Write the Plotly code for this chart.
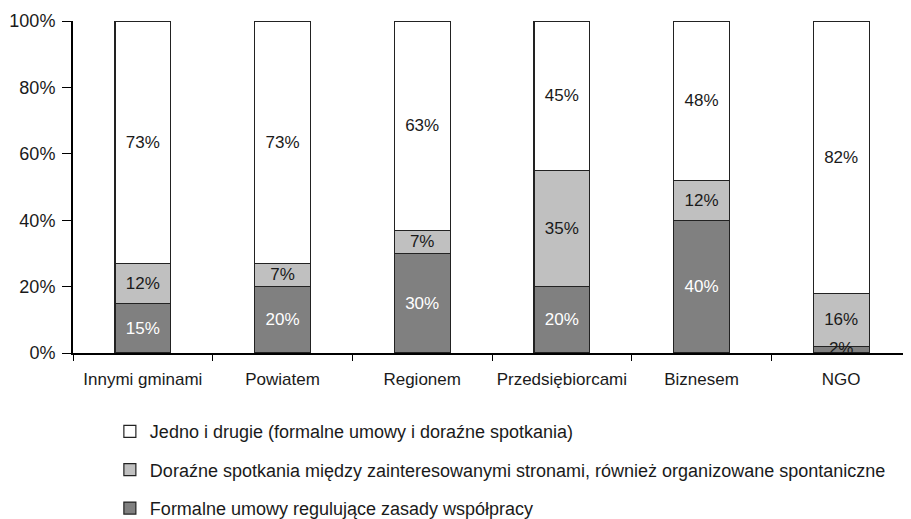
import plotly.graph_objects as go

categories = ["Innymi gminami", "Powiatem", "Regionem", "Przedsiębiorcami", "Biznesem", "NGO"]
formalne = [15, 20, 30, 20, 40, 2]
dorazne = [12, 7, 7, 35, 12, 16]
jedno = [73, 73, 63, 45, 48, 82]
y_ticks = [0, 20, 40, 60, 80, 100]

series = [
    ("Formalne umowy regulujące zasady współpracy", formalne, "#808080", "white", 3),
    ("Doraźne spotkania między zainteresowanymi stronami, również organizowane spontaniczne", dorazne, "#c0c0c0", "#1a1a1a", 2),
    ("Jedno i drugie (formalne umowy i doraźne spotkania)", jedno, "white", "#1a1a1a", 1),
]

FONT = "Liberation Sans, Arial, sans-serif"

fig = go.Figure()
for name, vals, color, tcolor, rank in series:
    fig.add_trace(go.Bar(
        x=categories, y=vals, name=name, legendgroup=name, legendrank=rank,
        marker=dict(color=color, line=dict(color="#222222", width=1.2)),
        width=0.4,
        text=[f"{v}%" if v >= 5 else "" for v in vals],
        textposition="inside", insidetextanchor="middle",
        textangle=0, constraintext="none",
        textfont=dict(color=tcolor, size=17, family=FONT),
    ))

# the 2% label does not fit in its bar, so it is drawn over it as plain text
small = [(c, v) for c, v in zip(categories, formalne) if v < 5]
fig.add_trace(go.Scatter(
    x=[c for c, v in small], y=[v / 2 for c, v in small],
    text=[f"{v}%" for c, v in small], mode="text", cliponaxis=False,
    textfont=dict(color="#1a1a1a", size=17, family=FONT),
    showlegend=False, hoverinfo="skip",
))

# page body has an 8px margin, so the figure is shrunk to fit
fig.update_layout(
    barmode="stack",
    width=903, height=511,
    margin=dict(l=65, r=0, t=13, b=166, autoexpand=False),
    plot_bgcolor="white", paper_bgcolor="white",
    font=dict(family=FONT, size=17, color="#1a1a1a"),
    showlegend=True,
    legend=dict(
        traceorder="grouped", orientation="v",
        x=0.044, xanchor="left", y=-0.181, yanchor="top",
        font=dict(size=18), tracegroupgap=12, itemwidth=30,
    ),
)
fig.update_yaxes(
    range=[0, 100], tickvals=y_ticks, ticktext=[f"{t}%" for t in y_ticks],
    tickfont=dict(size=18), ticklabelstandoff=3,
    showline=True, linecolor="black", linewidth=2, ticks="outside", ticklen=9,
    tickcolor="black", showgrid=False, zeroline=False,
)
fig.update_xaxes(
    showline=True, linecolor="black", linewidth=2, ticks="outside", ticklen=6,
    tickson="boundaries", tickcolor="black", showgrid=False, range=[-0.5, 5.5],
    ticklabelstandoff=10,
)

fig.write_html("out.html")
